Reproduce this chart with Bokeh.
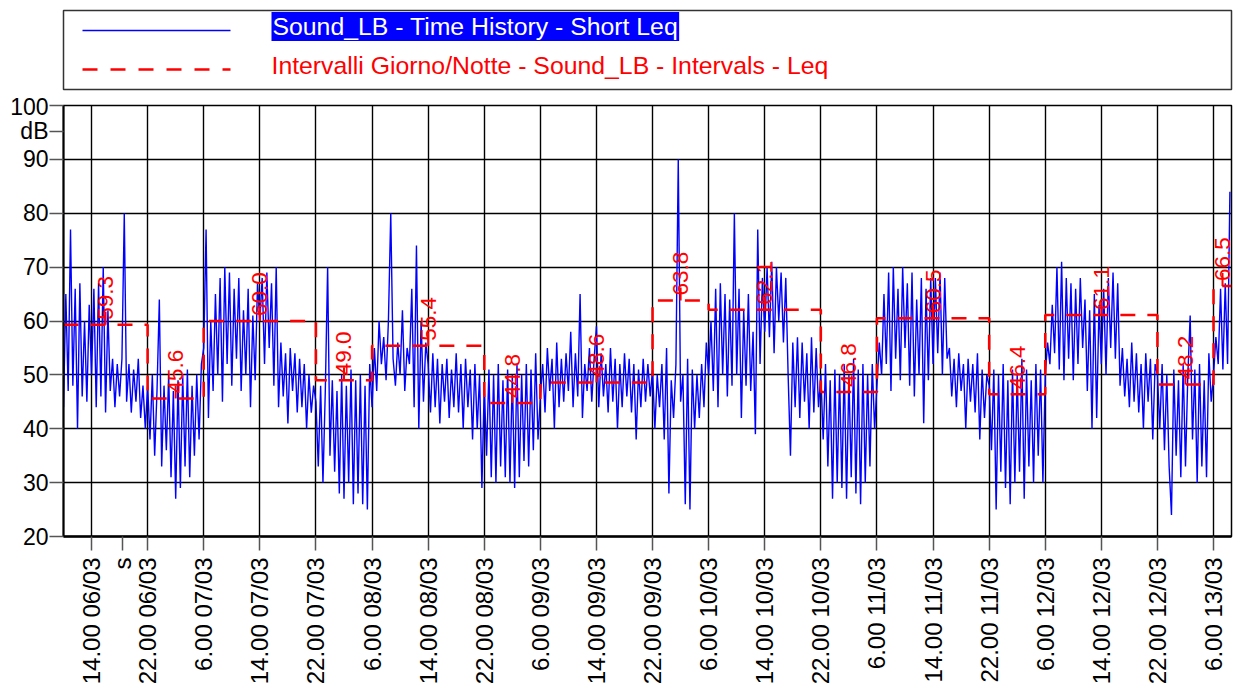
from math import pi
from bokeh.plotting import figure
from bokeh.models import Range1d, FixedTicker, Label
from bokeh.layouts import column
from bokeh.embed import file_html
from bokeh.resources import INLINE
from bokeh.core.properties import value

FONT = "Liberation Sans"

# ---------------- data ----------------
# Short Leq samples every 20 minutes, starting 06/03 10:00 (hours offset 0)
STEP_H = 1.0 / 3.0
X_END = 166.56  # right edge of the time axis (hours from 06/03 10:00)

blk_0610 = [44, 65, 47, 77, 48, 66, 40, 67, 46, 60, 45, 63]
blk_0614 = [50, 66, 44, 67, 46, 70, 43, 62, 47, 53, 44, 52, 46, 53, 80, 45, 52, 43, 51, 45, 53, 42, 48, 40]
blk_0622 = [48, 38, 50, 35, 47, 64, 33, 48, 36, 50, 31, 47, 27, 49, 29, 50, 33, 51, 31, 48, 35, 50, 38, 52]
blk_0706 = [55, 77, 42, 60, 47, 65, 50, 68, 45, 70, 52, 69, 48, 66, 53, 68, 47, 62, 50, 66, 44, 61, 49, 67]
blk_0714 = [60, 68, 52, 69, 55, 67, 48, 70, 44, 56, 46, 54, 41, 55, 47, 54, 43, 53, 44, 52, 40, 50, 43, 48]
blk_0722 = [45, 33, 48, 30, 47, 70, 35, 49, 32, 47, 28, 50, 27, 48, 30, 51, 26, 49, 28, 50, 26, 48, 25, 52]
blk_0806 = [44, 55, 47, 60, 52, 57, 49, 60, 80, 53, 48, 56, 50, 62, 47, 55, 52, 66, 44, 74, 40, 60, 45, 56]
blk_0814 = [52, 43, 54, 44, 53, 41, 52, 45, 53, 42, 51, 44, 54, 43, 52, 40, 53, 44, 51, 38, 52, 40, 50, 29]
blk_0822 = [48, 35, 51, 31, 50, 30, 52, 33, 49, 31, 51, 30, 50, 29, 52, 31, 50, 34, 52, 33, 51, 36, 54, 38]
blk_0906 = [46, 52, 43, 55, 47, 53, 40, 56, 44, 53, 45, 54, 47, 58, 44, 54, 46, 65, 42, 52, 47, 55, 45, 53]
blk_0914 = [59, 44, 54, 46, 52, 43, 55, 45, 53, 40, 52, 44, 54, 46, 53, 43, 52, 38, 51, 44, 53, 45, 52, 46]
blk_0922 = [51, 40, 50, 44, 52, 38, 55, 28, 49, 42, 52, 90, 45, 50, 26, 53, 25, 51, 40, 50, 42, 52, 44, 56]
blk_1006 = [50, 60, 47, 66, 44, 67, 50, 65, 46, 64, 48, 80, 50, 66, 42, 62, 48, 65, 47, 58, 39, 77, 52, 68]
blk_1014 = [58, 70, 57, 71, 54, 70, 60, 69, 56, 68, 50, 35, 56, 44, 57, 42, 56, 45, 54, 40, 57, 43, 55, 44]
blk_1022 = [50, 38, 52, 33, 49, 27, 51, 30, 50, 29, 52, 27, 50, 31, 53, 28, 51, 26, 52, 30, 50, 33, 52, 40]
blk_1106 = [48, 56, 50, 65, 52, 69, 47, 70, 53, 66, 49, 70, 55, 67, 48, 69, 46, 64, 50, 68, 41, 66, 49, 68]
blk_1114 = [52, 68, 54, 69, 50, 68, 53, 55, 46, 53, 44, 54, 47, 52, 40, 53, 45, 52, 43, 54, 38, 51, 42, 50]
blk_1122 = [48, 36, 51, 25, 50, 32, 52, 29, 49, 26, 51, 30, 50, 32, 53, 27, 51, 33, 49, 30, 52, 35, 51, 30]
blk_1206 = [50, 56, 52, 63, 54, 70, 51, 71, 49, 68, 53, 67, 49, 66, 52, 68, 55, 64, 47, 62, 40, 65, 42, 63]
blk_1214 = [52, 66, 50, 68, 55, 69, 53, 67, 48, 55, 46, 53, 44, 56, 45, 54, 43, 52, 40, 54, 45, 53, 38, 52]
blk_1222 = [50, 40, 52, 36, 50, 33, 24, 51, 35, 49, 31, 52, 33, 50, 61, 38, 51, 30, 52, 33, 49, 31, 54, 45]
blk_1306 = [50, 57, 52, 66, 51, 67, 52, 84]

short_leq = (blk_0610 + blk_0614 + blk_0622 + blk_0706 + blk_0714 + blk_0722 + blk_0806
             + blk_0814 + blk_0822 + blk_0906 + blk_0914 + blk_0922 + blk_1006 + blk_1014
             + blk_1022 + blk_1106 + blk_1114 + blk_1122 + blk_1206 + blk_1214 + blk_1222
             + blk_1306)
times = [i * STEP_H for i in range(len(short_leq))]

# Day (6-22) / Night (22-6) interval boundaries, hours from 06/03 10:00
interval_bounds = [0, 12, 20, 36, 44, 60, 68, 84, 92, 108, 116, 132, 140, 156, 164, X_END]
interval_leq = [59.3, 45.6, 60.0, 49.0, 55.4, 44.8, 48.6, 63.8, 62.1, 46.8, 60.5, 46.4, 61.1, 48.2, 66.5]

tick_hours = [4, 12, 20, 28, 36, 44, 52, 60, 68, 76, 84, 92, 100, 108, 116, 124, 132, 140, 148, 156, 164]
tick_labels = ["14.00 06/03", "22.00 06/03", "6.00 07/03", "14.00 07/03", "22.00 07/03",
               "6.00 08/03", "14.00 08/03", "22.00 08/03", "6.00 09/03", "14.00 09/03",
               "22.00 09/03", "6.00 10/03", "14.00 10/03", "22.00 10/03", "6.00 11/03",
               "14.00 11/03", "22.00 11/03", "6.00 12/03", "14.00 12/03", "22.00 12/03",
               "6.00 13/03"]
y_ticks = [20, 30, 40, 50, 60, 70, 80, 90, 100]

# axis unit captions and where they sit along their axis
x_unit, x_unit_at = "s", 8.4
y_unit, y_unit_at = "dB", 95.2

legend_1 = "Sound_LB - Time History - Short Leq"
legend_2 = "Intervalli Giorno/Notte - Sound_LB - Intervals - Leq"

W = 1233
LEG_H = 93
MAIN_H = 594

# ---------------- legend panel ----------------
leg = figure(width=W, height=LEG_H, x_range=Range1d(0, 1168), y_range=Range1d(79, 0),
             output_backend="svg", toolbar_location=None,
             x_axis_location=None, y_axis_location=None,
             min_border_left=63, min_border_right=2, min_border_top=10, min_border_bottom=4)
leg.grid.visible = False
leg.outline_line_color = "#333333"
leg.outline_line_width = 1.5
leg.background_fill_color = "white"
leg.border_fill_color = "white"
leg.line([19, 167], [20, 20], color="#0000FF", line_width=1.3)
leg.line([19, 167], [59, 59], color="#FF0000", line_width=2.5, line_dash="15 13")
leg.add_layout(Label(x=208, y=16, text=legend_1, text_color="white", text_font=FONT,
                     text_font_size="24.8px", text_baseline="alphabetic",
                     background_fill_color="#0000FF", padding=1))
leg.add_layout(Label(x=208, y=55, text=legend_2, text_color="#FF0000", text_font=FONT,
                     text_font_size="24.8px", text_baseline="alphabetic"))

# ---------------- main plot ----------------
p = figure(width=W, height=MAIN_H, x_range=Range1d(0, X_END), y_range=Range1d(20, 100),
           output_backend="svg", toolbar_location=None,
           min_border_left=63, min_border_right=1, min_border_top=12, min_border_bottom=150)
p.background_fill_color = "white"
p.border_fill_color = "white"
p.outline_line_color = "black"
p.outline_line_width = 1.5

x_axis_ticks = sorted(tick_hours + [x_unit_at])
x_overrides = {h: s for h, s in zip(tick_hours, tick_labels)}
x_overrides[x_unit_at] = x_unit
y_axis_ticks = sorted(y_ticks + [y_unit_at])

p.xaxis.ticker = FixedTicker(ticks=x_axis_ticks)
p.xaxis.major_label_overrides = x_overrides
p.xaxis.major_label_orientation = pi / 2
p.xaxis.major_label_standoff = 7
p.xaxis.axis_line_color = "black"
p.xaxis.axis_line_width = 2.5
p.xaxis.major_label_text_font_size = "24px"
p.yaxis.ticker = FixedTicker(ticks=y_axis_ticks)
p.yaxis.major_label_overrides = {y_unit_at: y_unit}
p.yaxis.major_label_standoff = 1
p.yaxis.axis_line_color = "black"
p.yaxis.axis_line_width = 2
p.yaxis.major_label_text_font_size = "23px"
for ax in (p.xaxis, p.yaxis):
    ax.major_tick_out = 14
    ax.major_tick_in = 0
    ax.major_tick_line_color = "#555555"
    ax.major_tick_line_width = 1.5
    ax.minor_tick_line_color = None
    ax.major_label_text_font = FONT
    ax.major_label_text_color = "black"

p.xgrid.ticker = FixedTicker(ticks=tick_hours)
p.ygrid.ticker = FixedTicker(ticks=y_ticks)
p.xgrid.grid_line_color = "black"
p.xgrid.grid_line_width = 1.4
p.ygrid.grid_line_color = "black"
p.ygrid.grid_line_width = 1.4

p.line(times, short_leq, color="#0000FF", line_width=1.4)

step_y = interval_leq + [interval_leq[-1]]
p.step(interval_bounds, step_y, mode="after", color="#FF0000", line_width=2.5, line_dash="15 12")

mids = [(a + b) / 2 for a, b in zip(interval_bounds[:-1], interval_bounds[1:])]
p.ray(x=mids, y=interval_leq, length=13, length_units="screen", angle=pi / 2,
      color="#FF0000", line_width=2)
p.text(x=mids, y=interval_leq, text=[f"{v:.1f}" for v in interval_leq], angle=pi / 2,
       text_align="left", text_baseline="middle", y_offset=-5,
       text_font=value(FONT), text_font_size="22.5px", text_color="#FF0000")

layout = column(leg, p, spacing=0)
open("out.html", "w").write(file_html(layout, INLINE))
